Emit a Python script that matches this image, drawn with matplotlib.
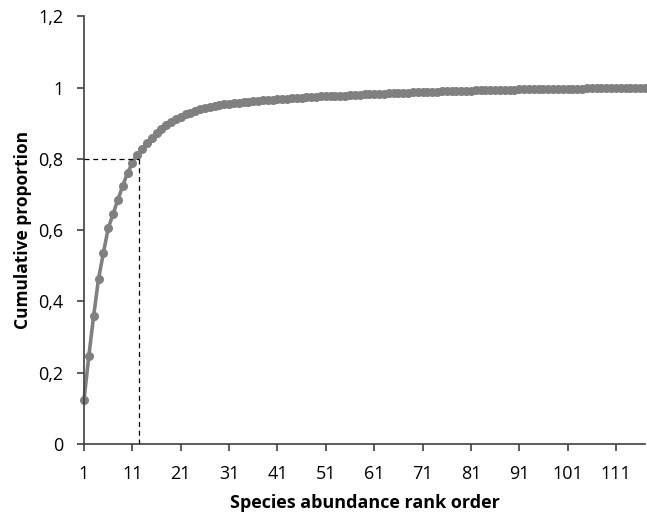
import matplotlib
matplotlib.use("Agg")
import matplotlib.pyplot as plt
from matplotlib.ticker import FixedLocator, FuncFormatter

plt.rcParams['font.family'] = ['Open Sans', 'DejaVu Sans']

# cumulative proportion of abundance by species rank
proportion = [
    0.124, 0.247, 0.360, 0.463, 0.536, 0.605, 0.645, 0.685, 0.724, 0.761,
    0.788, 0.812, 0.829, 0.845, 0.859, 0.872, 0.884, 0.895, 0.904, 0.912,
    0.919, 0.925, 0.930, 0.935, 0.939, 0.943, 0.946, 0.949, 0.951, 0.953,
    0.955, 0.957, 0.958, 0.960, 0.961, 0.962, 0.963, 0.964, 0.965, 0.966,
    0.967, 0.968, 0.969, 0.970, 0.971, 0.972, 0.973, 0.974, 0.975, 0.9755,
    0.976, 0.9765, 0.977, 0.9775, 0.978, 0.9785, 0.979, 0.980, 0.981, 0.9815,
    0.982, 0.9826, 0.9832, 0.9838, 0.9844, 0.985, 0.9856, 0.9862, 0.9868, 0.9874,
    0.988, 0.9884, 0.9888, 0.9892, 0.9896, 0.990, 0.9904, 0.9908, 0.9912, 0.9916,
    0.992, 0.9923, 0.9926, 0.9929, 0.9932, 0.9935, 0.9938, 0.9941, 0.9944, 0.9947,
    0.995, 0.9952, 0.9954, 0.9956, 0.9958, 0.996, 0.9962, 0.9964, 0.9966, 0.9968,
    0.997, 0.9972, 0.9974, 0.9976, 0.9978, 0.998, 0.9982, 0.9984, 0.9986, 0.9988,
    0.999, 0.9992, 0.9994, 0.9996, 0.9998, 0.9999, 1.0,
]
rank = list(range(1, len(proportion) + 1))

cutoff_value = 0.8
cutoff_rank = 12.35

x_ticks = list(range(1, 112, 10))
y_ticks = [0, 0.2, 0.4, 0.6, 0.8, 1.0, 1.2]

fig = plt.figure(figsize=(6.47, 5.13), dpi=100)
ax = fig.add_axes([84 / 647, 69 / 513, (645 - 84) / 647, (444 - 16.4) / 513])

ax.plot(rank, proportion, color='#808080', lw=2.6, marker='o', ms=6.5,
        markeredgewidth=0, zorder=2, clip_on=False)

# 80% cutoff guide lines
ax.plot([1, cutoff_rank], [cutoff_value, cutoff_value], color='black',
        lw=0.9, ls=(0, (4, 3)), zorder=3)
ax.plot([cutoff_rank, cutoff_rank], [0, cutoff_value], color='black',
        lw=0.9, ls=(0, (4, 3)), zorder=3)

ax.set_xlim(1, len(proportion))
ax.set_ylim(0, 1.2)
ax.xaxis.set_major_locator(FixedLocator(x_ticks))
ax.yaxis.set_major_locator(FixedLocator(y_ticks))
ax.yaxis.set_major_formatter(FuncFormatter(lambda v, p: ('%g' % round(v, 1)).replace('.', ',')))

for side in ['top', 'right']:
    ax.spines[side].set_visible(False)
for side in ['left', 'bottom']:
    ax.spines[side].set_color('#404040')
    ax.spines[side].set_linewidth(1.2)
ax.tick_params(direction='out', length=5, width=1.2, color='#404040',
               labelsize=13, labelcolor='black')
ax.tick_params(axis='y', pad=10)
ax.tick_params(axis='x', pad=10)

ax.set_xlabel('Species abundance rank order', fontsize=13, fontweight='bold', labelpad=8)
ax.set_ylabel('Cumulative proportion', fontsize=12.5, fontweight='bold', labelpad=4)

fig.savefig('out.png', dpi=100)
